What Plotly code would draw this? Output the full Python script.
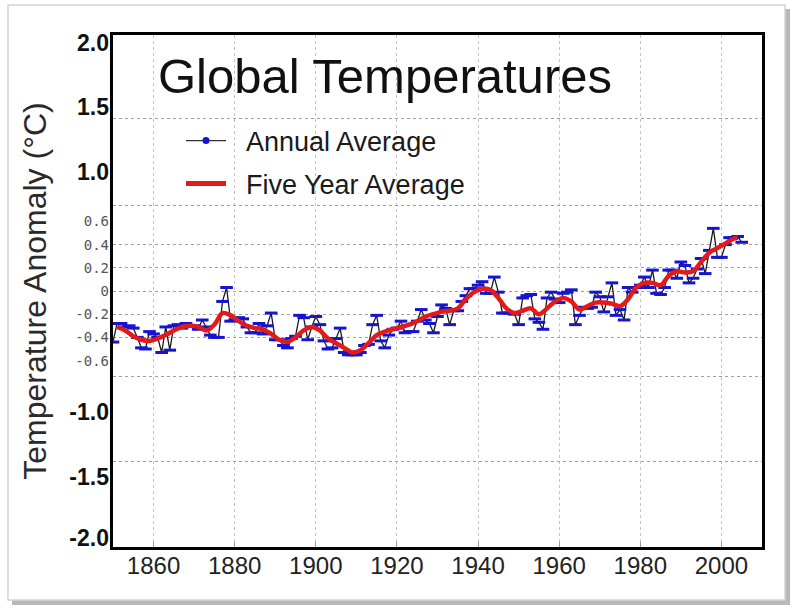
import plotly.graph_objects as go

# ---------------- data ----------------
years = list(range(1850, 2006))
annual = [
    # 1850s
    -0.44, -0.28, -0.28, -0.31, -0.30, -0.32, -0.40, -0.49, -0.50, -0.35,
    # 1860s
    -0.37, -0.40, -0.53, -0.31, -0.51, -0.30, -0.29, -0.32, -0.28, -0.30,
    # 1870s
    -0.30, -0.33, -0.25, -0.31, -0.38, -0.40, -0.40, -0.09, 0.03, -0.26,
    # 1880s
    -0.25, -0.23, -0.24, -0.31, -0.36, -0.36, -0.28, -0.37, -0.30, -0.19,
    # 1890s
    -0.42, -0.42, -0.47, -0.49, -0.41, -0.39, -0.21, -0.23, -0.42, -0.31,
    # 1900s
    -0.22, -0.29, -0.43, -0.50, -0.49, -0.41, -0.32, -0.53, -0.55, -0.55,
    # 1910s
    -0.55, -0.53, -0.47, -0.46, -0.29, -0.21, -0.43, -0.49, -0.38, -0.33,
    # 1920s
    -0.32, -0.26, -0.36, -0.35, -0.35, -0.26, -0.16, -0.25, -0.28, -0.36,
    # 1930s
    -0.22, -0.12, -0.15, -0.29, -0.17, -0.17, -0.09, -0.04, 0.02, 0.02,
    # 1940s
    0.05, 0.08, -0.02, -0.02, 0.12, -0.01, -0.19, -0.19, -0.19, -0.20,
    # 1950s
    -0.29, -0.06, -0.04, -0.03, -0.24, -0.27, -0.33, -0.06, -0.01, -0.07,
    # 1960s
    -0.10, -0.02, -0.01, 0.01, -0.29, -0.21, -0.14, -0.15, -0.14, -0.01,
    # 1970s
    -0.05, -0.18, -0.05, 0.07, -0.21, -0.16, -0.25, 0.03, -0.01, 0.03,
    # 1980s
    0.05, 0.12, 0.03, 0.18, -0.02, -0.03, 0.03, 0.18, 0.18, 0.11,
    # 1990s
    0.25, 0.22, 0.07, 0.11, 0.19, 0.28, 0.15, 0.35, 0.54, 0.29,
    # 2000s
    0.29, 0.40, 0.46, 0.46, 0.47, 0.42,
]

five_year_years = [
    1851, 1853, 1855, 1857, 1859, 1861, 1863, 1865, 1867, 1869,
    1871, 1873, 1875, 1877, 1879, 1881, 1883, 1885, 1887, 1889,
    1891, 1893, 1895, 1897, 1899, 1901, 1903, 1905, 1907, 1909,
    1911, 1913, 1915, 1917, 1919, 1921, 1923, 1925, 1927, 1929,
    1931, 1933, 1935, 1937, 1939, 1941, 1943, 1945, 1947, 1949,
    1951, 1953, 1955, 1957, 1959, 1961, 1963, 1965, 1967, 1969,
    1971, 1973, 1975, 1977, 1979, 1981, 1983, 1985, 1987, 1989,
    1991, 1993, 1995, 1997, 1999, 2001, 2003, 2004,
]
five_year_avg = [
    -0.31, -0.34, -0.39, -0.42, -0.43, -0.41, -0.38, -0.34, -0.31, -0.30,
    -0.31, -0.34, -0.29, -0.19, -0.21, -0.26, -0.30, -0.32, -0.33, -0.37,
    -0.42, -0.44, -0.40, -0.34, -0.31, -0.34, -0.41, -0.45, -0.49, -0.53,
    -0.51, -0.45, -0.38, -0.35, -0.33, -0.31, -0.29, -0.26, -0.22, -0.20,
    -0.18, -0.17, -0.15, -0.07, -0.01, 0.02, 0.01, -0.06, -0.15, -0.19,
    -0.17, -0.15, -0.20, -0.15, -0.09, -0.06, -0.09, -0.16, -0.13, -0.10,
    -0.10, -0.11, -0.13, -0.07, 0.03, 0.07, 0.07, 0.05, 0.13, 0.17,
    0.16, 0.17, 0.25, 0.33, 0.37, 0.41, 0.45, 0.46,
]

x_tick_vals = [1860, 1880, 1900, 1920, 1940, 1960, 1980, 2000]
x_tick_text = ["1860", "1880", "1900", "1920", "1940", "1960", "1980", "2000"]

# the picture's y axis mixes two sets of labels
big_tick_text = ["2.0", "1.5", "1.0", "-1.0", "-1.5", "-2.0"]
big_tick_pos = [2.138, 1.586, 1.026, -1.043, -1.603, -2.129]
small_tick_text = ["0.6", "0.4", "0.2", "0", "-0.2", "-0.4", "-0.6"]
small_tick_pos = [0.6, 0.4, 0.2, 0.0, -0.2, -0.4, -0.6]
grid_pos = [1.483, 0.741, 0.4, 0.2, 0.0, -0.2, -0.4, -0.733, -1.466]
y_range = [-2.207, 2.207]
x_range = [1850, 2010]

# ---------------- layout helpers ----------------
W, H = 800, 614
L, R, T, B = 113, 38, 35, 67
PW, PH = W - L - R, H - T - B


def px2x(px):
    return (px - L) / PW


def py2y(py):
    return (H - B - py) / PH


FONT = "Liberation Sans, Arial, sans-serif"
BLUE = "#1414d2"
RED = "#e31a1a"
NB = "\u00a0\u00a0"

fig = go.Figure()

fig.add_trace(go.Scatter(
    x=years, y=annual, mode="lines+markers", name="Annual Average",
    line=dict(color="#1a1a1a", width=1.3),
    marker=dict(symbol="line-ew", size=9, line=dict(width=3, color=BLUE)),
    showlegend=False, hoverinfo="x+y",
))
fig.add_trace(go.Scatter(
    x=five_year_years, y=five_year_avg, mode="lines", name="Five Year Average",
    line=dict(color=RED, width=4.5, shape="spline", smoothing=1.0),
    showlegend=False,
))

# legend samples
fig.add_trace(go.Scatter(
    x=[None], y=[None], mode="lines+markers", name=NB + "Annual Average",
    line=dict(color="#333333", width=1.2),
    marker=dict(symbol="circle", size=7, color=BLUE),
    legend="legend",
))
fig.add_trace(go.Scatter(
    x=[None], y=[None], mode="lines", name=NB + "Five Year Average",
    line=dict(color=RED, width=5),
    legend="legend2",
))

# empty traces to register the overlaid label axes
fig.add_trace(go.Scatter(x=[], y=[], yaxis="y2", showlegend=False, hoverinfo="skip"))
fig.add_trace(go.Scatter(x=[], y=[], yaxis="y3", showlegend=False, hoverinfo="skip"))

fig.update_layout(
    width=W, height=H,
    margin=dict(l=L, r=R, t=T, b=B, autoexpand=False),
    paper_bgcolor="#ffffff",
    plot_bgcolor="#ffffff",
    font=dict(family=FONT, color="#1a1a1a"),
    xaxis=dict(
        range=x_range, tickvals=x_tick_vals, ticktext=x_tick_text,
        ticks="inside", ticklen=5, tickcolor="#999999", tickwidth=1,
        ticklabelstandoff=-5,
        showgrid=True, gridcolor="#c4c4c4", griddash="dot", gridwidth=1,
        showline=True, linecolor="black", linewidth=2.5, mirror=True,
        zeroline=False, automargin=False,
        tickfont=dict(size=24, color="#222222", family=FONT),
    ),
    yaxis=dict(
        range=y_range, tickvals=grid_pos, showticklabels=False, ticks="",
        showgrid=True, gridcolor="#a0a0a0", griddash="dot", gridwidth=1,
        showline=True, linecolor="black", linewidth=2.5, mirror=True,
        zeroline=False, automargin=False,
    ),
    yaxis2=dict(
        overlaying="y", side="left", range=y_range,
        tickvals=big_tick_pos, ticktext=big_tick_text,
        ticks="", ticklabelstandoff=3,
        showgrid=False, zeroline=False, showline=False, automargin=False,
        tickfont=dict(size=23, color="#111111", family=FONT, weight="bold"),
        title=dict(text="Temperature Anomaly (°C)", standoff=13,
                   font=dict(size=32, color="#2a2a2a", family=FONT)),
    ),
    yaxis3=dict(
        overlaying="y", side="left", range=y_range,
        tickvals=small_tick_pos, ticktext=small_tick_text,
        ticks="", ticklabelstandoff=3,
        showgrid=False, zeroline=False, showline=False, automargin=False,
        tickfont=dict(size=14, color="#555555", family="DejaVu Sans Mono"),
    ),
    legend=dict(
        x=px2x(181), y=py2y(141), xanchor="left", yanchor="middle",
        bgcolor="rgba(0,0,0,0)", borderwidth=0, itemwidth=40,
        font=dict(size=27, color="#1a1a1a", family=FONT),
    ),
    legend2=dict(
        x=px2x(181), y=py2y(184), xanchor="left", yanchor="middle",
        bgcolor="rgba(0,0,0,0)", borderwidth=0, itemwidth=40,
        font=dict(size=27, color="#1a1a1a", family=FONT),
    ),
    annotations=[dict(
        text="Global Temperatures", xref="paper", yref="paper",
        x=px2x(156), y=py2y(76), xanchor="left", yanchor="middle",
        showarrow=False, font=dict(size=49, color="#111111", family=FONT),
    )],
    shapes=[
        dict(type="rect", xref="paper", yref="paper", layer="below",
             x0=px2x(12), x1=px2x(790), y0=py2y(605), y1=py2y(9),
             fillcolor="#b8b8b8", line=dict(width=0)),
        dict(type="rect", xref="paper", yref="paper", layer="below",
             x0=px2x(8), x1=px2x(785), y0=py2y(600), y1=py2y(5),
             fillcolor="#ffffff", line=dict(color="#d4d4d4", width=1.5)),
    ],
)

# the page's default 8px body margin would offset the figure in the window
fig.write_html("out.html", config={"displayModeBar": False},
               post_script="document.body.style.margin='0';")
